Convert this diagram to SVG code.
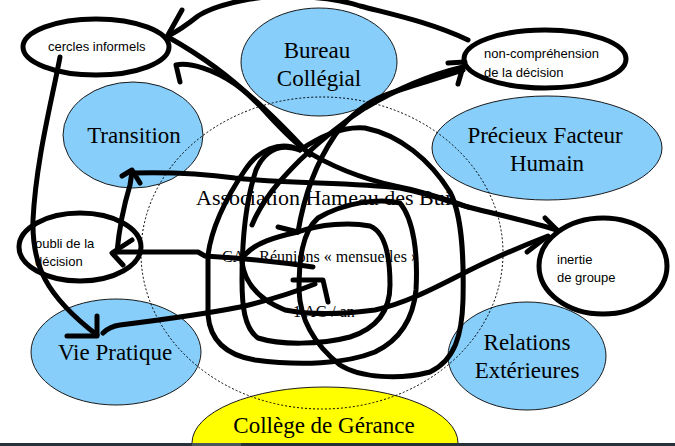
<svg xmlns="http://www.w3.org/2000/svg" width="675" height="446" viewBox="0 0 675 446">
<style>
.blue{fill:#87CEFA;stroke:#1a1a1a;stroke-width:1}
.yel{fill:#FFFF00;stroke:#1a1a1a;stroke-width:1}
.serif{font-family:"Liberation Serif","Times New Roman",serif;font-size:23px;fill:#000;text-anchor:middle}
.mid{font-family:"Liberation Serif","Times New Roman",serif;font-size:16px;fill:#000}
.sans{font-family:"Liberation Sans",Arial,sans-serif;font-size:13px;fill:#000}
.hand{fill:none;stroke:#000;stroke-width:5;stroke-linecap:round;stroke-linejoin:round}
.dot{fill:none;stroke:#000;stroke-width:1;stroke-dasharray:2 2}
</style>
<rect width="675" height="446" fill="#fff"/>
<g id="bureau"><ellipse class="blue" cx="319" cy="62" rx="78" ry="54"/></g>
<g id="transition"><ellipse class="blue" cx="133" cy="135" rx="70" ry="53"/></g>
<g id="precieux"><ellipse class="blue" cx="547" cy="148" rx="115" ry="52"/></g>
<g id="vie-pratique"><ellipse class="blue" cx="116" cy="352" rx="85" ry="53"/></g>
<g id="relations"><ellipse class="blue" cx="527" cy="356" rx="79" ry="54"/></g>
<g id="college"><ellipse class="yel" cx="325" cy="443" rx="133" ry="56"/></g>
<g id="association"><ellipse class="dot" cx="322" cy="253" rx="181" ry="156"/></g>
<g id="labels">
<text class="serif" x="317" y="58">Bureau</text>
<text class="serif" x="319" y="86">Collégial</text>
<text class="serif" x="134" y="143">Transition</text>
<text class="serif" x="545" y="143">Précieux Facteur</text>
<text class="serif" x="547" y="171">Humain</text>
<text class="serif" x="115" y="360">Vie Pratique</text>
<text class="serif" x="527" y="350">Relations</text>
<text class="serif" x="527" y="378">Extérieures</text>
<text class="serif" x="324" y="433">Collège de Gérance</text>
<text class="mid" x="196" y="205" style="font-size:22px">Association Hameau des Bui</text>
<text class="mid" x="222" y="262">CA – Réunions « mensuelles »</text>
<text class="mid" x="293" y="317">1 AG / an</text>
</g>
<g id="connectors" class="hand">
<path d="M468,40 C430,22 390,14 360,6 C330,-4 280,-6 250,-1 C228,3 210,8 198,16 C188,24 180,30 168,36"/>
<path d="M182,10 L168,35"/>
<path d="M168,37 C200,55 235,80 262,108 C280,128 292,140 305,150 C330,166 360,178 395,186 C425,192 448,200 468,207 C500,215 530,222 557,230"/>
<path d="M545,218 L557,230"/>
<path d="M180,82 L176,65 C190,62 215,70 235,84 C260,102 285,128 310,155"/>
<path d="M463,67 C430,75 395,90 365,108 C340,124 318,143 300,160 C280,180 262,200 252,225"/>
<path d="M463,70 C440,78 410,86 385,95 C365,103 348,118 335,135 C318,160 305,190 298,232"/>
<path d="M278,227 L298,232 C275,237 255,243 245,255"/>
<path d="M448,63 L465,62 M458,84 L463,67"/>
<path d="M133,173 C170,172 205,174 235,178 C290,184 350,182 400,188 C430,194 450,202 468,207"/>
<path d="M117,252 C119,230 124,205 130,185 L132,172"/>
<path d="M122,176 L132,170 L140,183"/>
<path d="M313,267 C280,262 240,258 205,256 L198,252 L114,252"/>
<path d="M132,240 L112,253 L123,265"/>
<path d="M103,333 C108,328 112,326 120,325 C160,320 200,315 240,307 C270,300 295,292 315,284"/>
<path d="M293,280 L323,280 L328,302"/>
<path d="M60,57 C52,100 36,160 33,220 C32,265 45,295 97,335"/>
<path d="M97,316 L97,336 L67,336"/>
<path d="M300,150 C280,140 258,150 245,170 C228,195 212,225 208,255 L208,315 C210,340 225,355 255,360 C300,366 345,364 375,352 C400,340 413,320 416,290 C418,255 414,220 400,203 C380,198 345,202 318,218 C302,232 299,260 299,290 C300,320 315,345 340,365 C360,378 400,380 430,372 C455,360 462,335 463,300 C464,255 462,215 450,192 C430,160 400,135 365,128 C340,126 318,138 300,150"/>
<path d="M298,232 C320,224 350,222 370,226 C385,232 390,255 390,285 C390,310 378,328 350,337 C320,345 280,345 258,338 C244,328 242,305 242,280 C242,240 246,200 256,170 C265,150 280,143 300,150"/>
<path d="M242,262 C245,285 260,300 285,310 C310,315 345,314 375,310 C410,302 440,285 470,270 C500,255 525,245 548,236"/>
<path d="M527,252 L545,238"/>
</g>
<g id="cercles-informels"><ellipse class="hand" cx="96" cy="47" rx="73" ry="28"/><text class="sans" x="48" y="51">cercles informels</text></g>
<g id="non-comprehension"><ellipse class="hand" cx="545" cy="59" rx="81" ry="29"/><text class="sans" x="484" y="58">non-compréhension</text><text class="sans" x="484" y="77">de la décision</text></g>
<g id="oubli"><ellipse class="hand" cx="80" cy="247" rx="61" ry="34"/><text class="sans" x="35" y="248">oubli de la</text><text class="sans" x="35" y="266">décision</text></g>
<g id="inertie"><ellipse class="hand" cx="603" cy="266" rx="64" ry="48"/><text class="sans" x="557" y="264">inertie</text><text class="sans" x="557" y="282">de groupe</text></g>
<rect x="0" y="443" width="675" height="3" fill="#263238"/>
<rect x="192" y="443" width="49" height="3" fill="#4a565c"/>
</svg>
